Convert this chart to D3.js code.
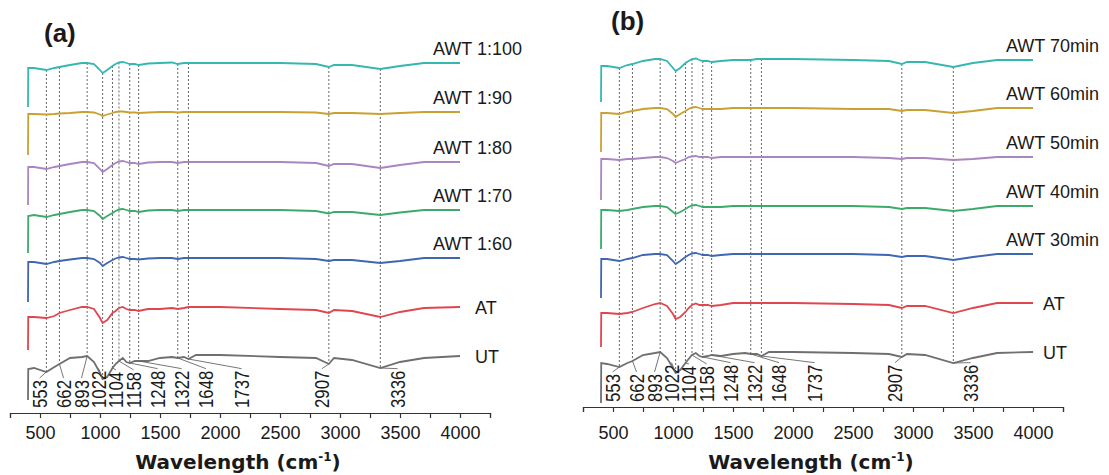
<!DOCTYPE html>
<html lang="en">
<head>
<meta charset="utf-8">
<title>FTIR spectra</title>
<script src="https://d3js.org/d3.v7.min.js"></script>
<style>
  body { margin: 0; background: #fff; }
  svg text { font-family: "Liberation Sans", Arial, sans-serif; fill: #1a1a1a; }
</style>
</head>
<body>
<script>
// wavenumber grid (cm-1) shared by all spectra
const wn = [400, 402, 450, 553, 620, 662, 750, 850, 893, 950, 1000, 1022, 1060, 1104, 1130, 1158, 1190, 1220, 1248, 1290,
            1322, 1400, 1500, 1600, 1648, 1700, 1737, 1800, 2000, 2500, 2800, 2907, 2950, 3100, 3336, 3500, 3700, 4000];

// panel (a), offset transmittance (a.u.)
const awt100 = [306, 345, 345, 343, 345, 346, 348, 350, 350, 349, 343, 340, 343, 347, 349, 350.5, 351, 350, 349, 349,
                348, 349.5, 350, 350.5, 349, 350, 350, 350, 350, 350, 349, 346, 348, 348, 344, 347, 350, 350];
const awt90  = [258, 299, 299, 298.5, 299, 299.5, 300, 301, 301, 300.5, 298.5, 297, 298.5, 300, 301, 301.5, 301.5, 301, 300.5, 300.5,
                300, 300.5, 301, 301, 300.5, 301, 301, 301, 301, 301, 300.5, 299, 300, 300, 299, 300, 301, 301];
const awt80  = [208, 246, 246, 244, 246, 247, 249, 251, 251, 250, 244, 241, 244, 248, 250, 251.5, 252, 251, 250, 250,
                249, 250.5, 251, 251, 250, 251, 251, 251, 251, 251, 250, 247, 249, 249, 245, 248, 251, 251];
const awt70  = [160, 197, 198, 196, 198, 199, 201, 203, 203, 202, 197, 194, 197, 200, 202, 203.5, 204, 203, 202, 202,
                201, 202.5, 203, 203, 202, 203, 203, 203, 203, 203, 202, 199.5, 201, 201, 198, 200.5, 203, 203];
const awt60  = [111, 151, 151, 149, 151, 152, 153.5, 155, 155, 154, 150, 147, 150, 153, 154.5, 155.5, 156, 155, 154, 154,
                153.5, 154.5, 155, 155, 154, 155, 155, 155, 155, 155, 154, 152, 153, 153, 150, 152, 155, 155];
const atA    = [63, 96, 96, 95, 97, 100, 103, 106, 106, 104, 95, 90, 93, 100, 102, 105, 106, 104, 103, 103,
                102, 104, 104, 105, 104, 105, 106, 106, 106, 104, 103, 100, 103, 102, 96, 101, 105, 106];
const utA    = [13, 44, 45, 41, 46, 49, 55, 56, 57, 51, 40, 34, 36, 45, 49, 52, 55, 51, 50, 52,
                52, 52, 55, 56, 55, 56, 54, 58, 58, 56, 55, 49, 55, 53, 45, 51, 55, 57];

// panel (b)
const awt70m = [311, 347, 347, 345, 348, 349, 352, 354, 354, 352, 345, 342, 345, 350, 352, 354, 354.5, 353, 352, 352,
                351, 352, 353, 353, 353, 354, 354, 354, 354, 353, 352, 349, 351, 351, 346, 350, 353, 353];
const awt60m = [261, 300, 300, 299, 301, 302, 304, 305, 305, 304, 299, 296, 299, 302, 304, 305.5, 306, 305, 304, 304,
                304, 304, 305, 305, 305, 305, 305, 305, 305, 304, 304, 302, 303, 303, 300, 302, 305, 305];
const awt50m = [213, 254, 254, 253, 254, 254, 255, 256, 256, 255, 252, 250, 252, 254, 256, 256.5, 257, 256, 256, 256,
                255, 256, 256, 256, 256, 256, 256, 256, 256, 256, 255, 254, 255, 255, 253, 254, 256, 256];
const awt40m = [164, 203, 203, 202, 203, 204, 206, 207, 207, 206, 201, 199, 201, 204, 206, 207.5, 208, 207, 206, 206,
                206, 206, 207, 207, 207, 207, 207, 207, 207, 207, 206, 204, 205, 205, 202, 204, 207, 207];
const awt30m = [115, 154, 154, 152, 154, 155, 158, 159, 159, 158, 152, 149, 152, 156, 158, 159.5, 160, 159, 158, 158,
                157, 158, 159, 159, 159, 159, 159, 159, 159, 159, 158, 156, 157, 157, 153, 156, 159, 159];
const atB    = [66, 100, 100, 99, 100, 101, 105, 109, 110, 107, 99, 94, 96, 101, 105, 108, 109.5, 108, 108, 108,
                107, 108, 110, 110, 110, 110, 110, 110, 110, 109, 108, 105, 107, 107, 100, 105, 110, 110];
const utB    = [10, 50, 49, 46, 50, 52, 58, 60, 61, 55, 45, 40, 43, 50, 54, 58, 60, 57, 56, 57,
                58, 57, 59, 60, 59, 59, 57, 61, 61, 60, 59, 56, 59, 58, 50, 55, 60, 61];

const namesA = ["AWT 1:100", "AWT 1:90", "AWT 1:80", "AWT 1:70", "AWT 1:60", "AT", "UT"];
const namesB = ["AWT 70min", "AWT 60min", "AWT 50min", "AWT 40min", "AWT 30min", "AT", "UT"];

const peaks = [553, 662, 893, 1022, 1104, 1158, 1248, 1322, 1648, 1737, 2907, 3336];
const peakLabelAt = [497, 696, 846, 988, 1133, 1280, 1480, 1680, 1883, 2180, 2850, 3480];

const tickVals = d3.range(250, 4251, 250);
const tickLabels = [500, 1000, 1500, 2000, 2500, 3000, 3500, 4000];

const colors = ["#35b7b1", "#c9a133", "#a985c1", "#3caa6b", "#3f66b1", "#e0464e", "#6f6f6f"];

const w = 1109, h = 475;
const svg = d3.select("body").append("svg").attr("width", w).attr("height", h);

const yScale = d3.scaleLinear().domain([0, 413]).range([413, 0]);

function drawPanel(opt) {
  const x = d3.scaleLinear().domain([250, 4250]).range(opt.xRange);
  const g = svg.append("g");
  const line = d3.line().x((d, i) => x(wn[i])).y(d => yScale(d));

  const top = opt.series[0], ut = opt.series[opt.series.length - 1];
  const interp = (arr, v) => {
    const i = d3.bisectLeft(wn, v);
    const t = (v - wn[i - 1]) / (wn[i] - wn[i - 1]);
    return arr[i - 1] + t * (arr[i] - arr[i - 1]);
  };

  // dashed guide lines
  g.selectAll(".guide").data(peaks).join("line")
    .attr("x1", d => x(d)).attr("x2", d => x(d))
    .attr("y1", d => yScale(interp(top, d)))
    .attr("y2", d => yScale(interp(ut, d)))
    .attr("stroke", "#555").attr("stroke-width", 0.9).attr("stroke-dasharray", "2,2");

  // spectra
  opt.series.forEach((s, i) => {
    g.append("path").datum(s).attr("d", line)
      .attr("fill", "none").attr("stroke", colors[i]).attr("stroke-width", 1.8);
    const yEnd = yScale(s[s.length - 1]);
    const awt = i < 5;
    g.append("text")
      .attr("x", awt ? x(4000) - 27 : x(4000) + opt.atDx)
      .attr("y", awt ? yEnd - 13 : yEnd + 2)
      .attr("dominant-baseline", "middle")
      .style("font-size", "18px")
      .text(opt.names[i]);
  });

  // peak labels + leaders (narrow, tall digits like the original)
  const labelBase = opt.axisY - 5;
  const squeeze = 0.8;
  peaks.forEach((p, i) => {
    const lx = x(peakLabelAt[i]);
    const t = g.append("text")
      .attr("transform", `translate(${lx},${labelBase}) rotate(-90) scale(${squeeze},1)`)
      .attr("dy", "0.35em")
      .style("font-size", "21px")
      .text(p);
    const len = t.node().getComputedTextLength() * squeeze;
    g.append("line")
      .attr("x1", x(p)).attr("y1", yScale(interp(ut, p)))
      .attr("x2", lx).attr("y2", labelBase - len - 2)
      .attr("stroke", "#666").attr("stroke-width", 0.9);
  });

  // x axis
  const axis = d3.axisBottom(x).tickValues(tickVals).tickSize(5).tickPadding(opt.tickPad)
    .tickFormat(d => tickLabels.includes(d) ? d : "");
  const ax = g.append("g").attr("transform", `translate(0,${opt.axisY})`).call(axis);
  ax.select(".domain").attr("stroke", "#333").attr("stroke-width", 1.2);
  ax.selectAll(".tick line").attr("stroke", "#333").attr("stroke-width", 1.2);
  ax.selectAll(".tick text").style("font-size", "18px").style("font-family", '"Liberation Sans", Arial, sans-serif').attr("fill", "#1a1a1a");

  const title = g.append("text")
    .attr("x", x(2150)).attr("y", 469)
    .attr("text-anchor", "middle")
    .style("font-family", '"DejaVu Sans", sans-serif')
    .style("font-weight", "bold").style("font-size", "20px");
  title.append("tspan").text("Wavelength (cm");
  title.append("tspan").attr("dy", -8).style("font-size", "12px").text("-1");
  title.append("tspan").attr("dy", 8).text(")");

  g.append("text")
    .attr("x", opt.tag[0]).attr("y", opt.tag[1])
    .style("font-weight", "bold").style("font-size", "26px")
    .text(opt.tagText);
}

drawPanel({
  xRange: [10, 490], axisY: 413, tickPad: 8, atDx: 15,
  series: [awt100, awt90, awt80, awt70, awt60, atA, utA], names: namesA,
  tag: [44, 42], tagText: "(a)"
});
drawPanel({
  xRange: [583, 1063], axisY: 407, tickPad: 14, atDx: 10,
  series: [awt70m, awt60m, awt50m, awt40m, awt30m, atB, utB], names: namesB,
  tag: [611, 30], tagText: "(b)"
});
</script>
</body>
</html>
